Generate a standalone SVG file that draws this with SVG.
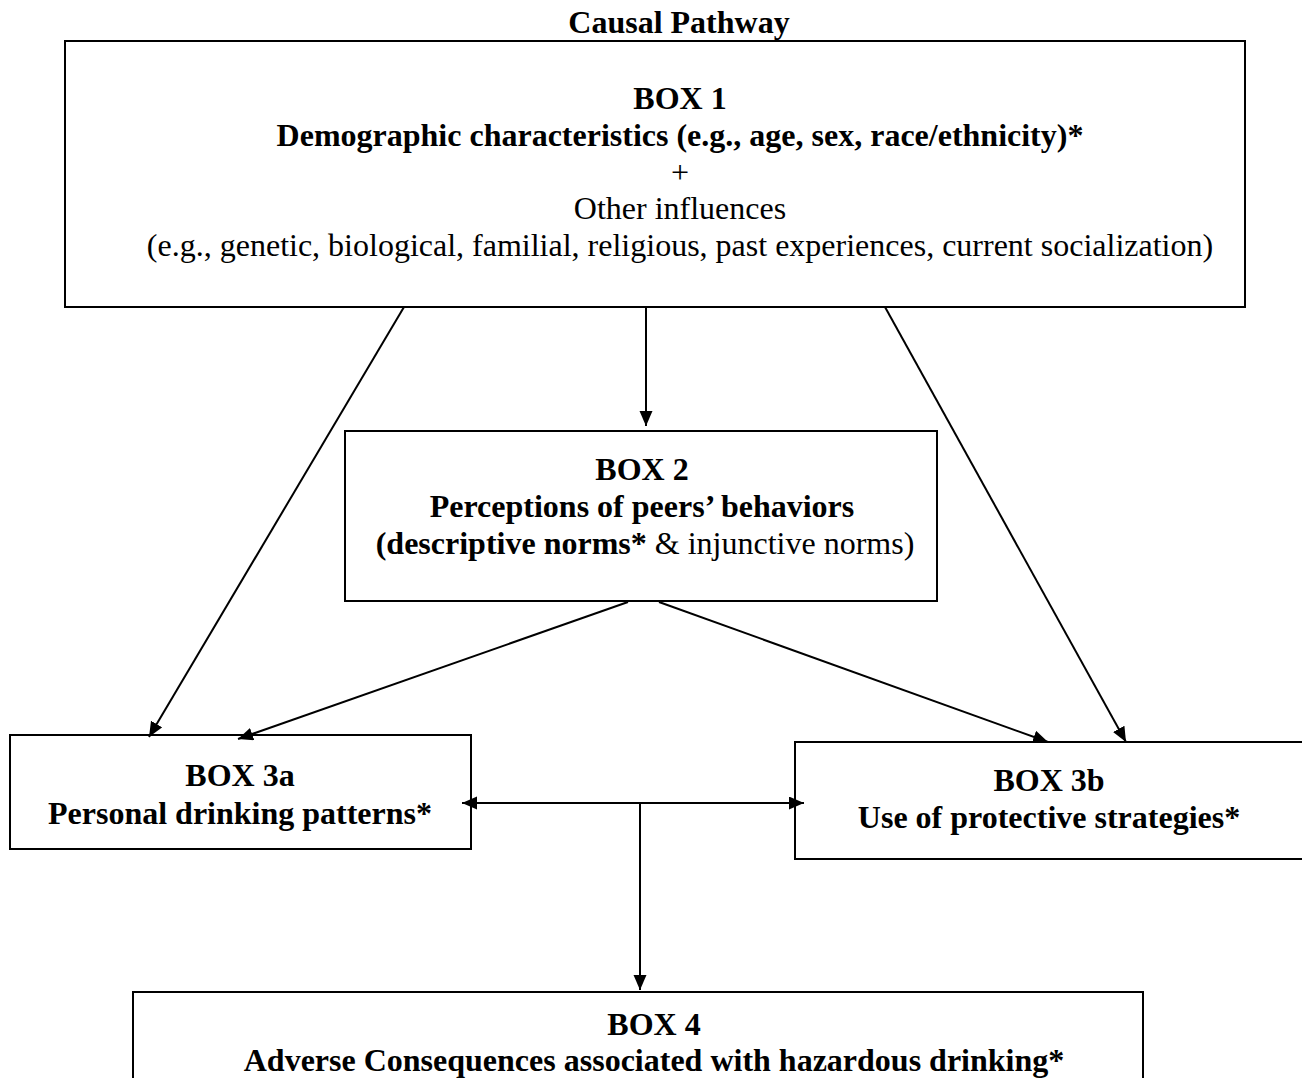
<svg xmlns="http://www.w3.org/2000/svg" width="1302" height="1078" viewBox="0 0 1302 1078">
<style>
  .box { fill: #ffffff; stroke: #000000; stroke-width: 2; }
  .t { font-family: "Liberation Serif", "Times New Roman", serif; font-size: 32px; fill: #000000; text-anchor: middle; }
  .b { font-weight: bold; }
  .conn { stroke: #000000; stroke-width: 2; fill: none; marker-end: url(#arrow); }
</style>
<defs>
  <marker id="arrow" markerUnits="userSpaceOnUse" markerWidth="16" markerHeight="14" refX="15" refY="6.5" orient="auto-start-reverse">
    <path d="M0,0 L15,6.5 L0,13 z" fill="#000000"/>
  </marker>
</defs>
<rect width="1302" height="1078" fill="#ffffff"/>
<text class="t b" x="679" y="33">Causal Pathway</text>

<g id="box1">
  <rect class="box" x="65" y="41" width="1180" height="266"/>
  <text class="t b" x="680" y="109">BOX 1</text>
  <text class="t b" x="680" y="146">Demographic characteristics (e.g., age, sex, race/ethnicity)*</text>
  <text class="t" x="680" y="183">+</text>
  <text class="t" x="680" y="219">Other influences</text>
  <text class="t" x="680" y="256">(e.g., genetic, biological, familial, religious, past experiences, current socialization)</text>
</g>

<g id="box2">
  <rect class="box" x="345" y="431" width="592" height="170"/>
  <text class="t b" x="642" y="480">BOX 2</text>
  <text class="t b" x="642" y="517">Perceptions of peers’ behaviors</text>
  <text class="t" x="645" y="554"><tspan class="b">(descriptive norms*</tspan> &amp; injunctive norms)</text>
</g>

<g id="box3a">
  <rect class="box" x="10" y="735" width="461" height="114"/>
  <text class="t b" x="240" y="786">BOX 3a</text>
  <text class="t b" x="240" y="824">Personal drinking patterns*</text>
</g>

<g id="box3b">
  <rect class="box" x="795" y="742" width="512" height="117"/>
  <text class="t b" x="1049" y="791">BOX 3b</text>
  <text class="t b" x="1049" y="828">Use of protective strategies*</text>
</g>

<g id="box4">
  <rect class="box" x="133" y="992" width="1010" height="120"/>
  <text class="t b" x="654" y="1035">BOX 4</text>
  <text class="t b" x="654" y="1071">Adverse Consequences associated with hazardous drinking*</text>
</g>

<g id="connectors">
  <line class="conn" x1="646" y1="307" x2="646" y2="426"/>
  <line class="conn" x1="404" y1="307" x2="149" y2="737"/>
  <line class="conn" x1="885" y1="307" x2="1126" y2="742"/>
  <line class="conn" x1="628" y1="602" x2="238" y2="739"/>
  <line class="conn" x1="659" y1="602" x2="1048" y2="742"/>
  <line class="conn" x1="462" y1="803" x2="804" y2="803" style="marker-start: url(#arrow);"/>
  <line class="conn" x1="640" y1="803" x2="640" y2="990"/>
</g>
</svg>
